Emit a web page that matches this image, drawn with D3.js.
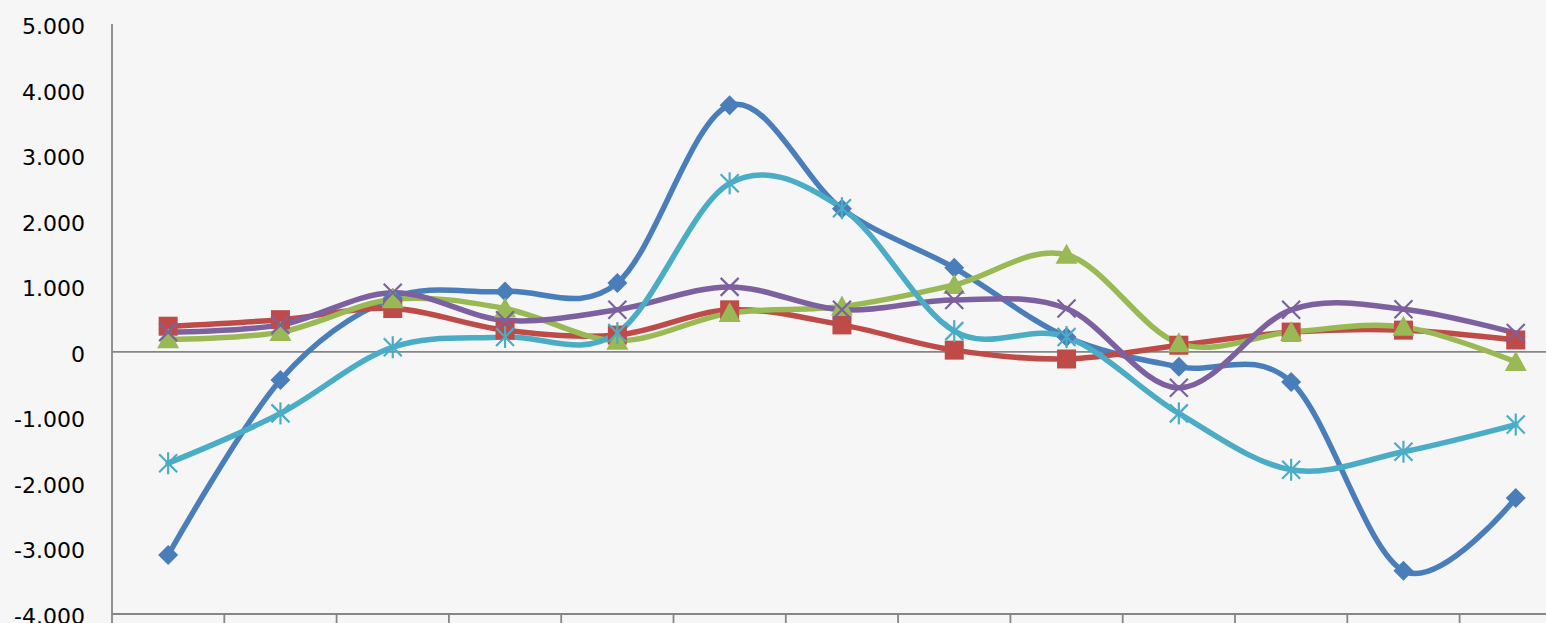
<!DOCTYPE html>
<html>
<head>
<meta charset="utf-8">
<script src="https://cdn.jsdelivr.net/npm/d3@7"></script>
<style>
  html, body { margin: 0; padding: 0; background: #f6f6f6; }
  svg { display: block; }
</style>
</head>
<body>
<div id="chart"></div>
<script>
// ---- data ----
var categories = [1, 2, 3, 4, 5, 6, 7, 8, 9, 10, 11, 12, 13];
var yTicks = [-4000, -3000, -2000, -1000, 0, 1000, 2000, 3000, 4000, 5000];

var blueVals   = [-3100, -430, 820, 920, 1050, 3760, 2180, 1280, 225, -230, -460, -3340, -2230];
var redVals    = [390, 490, 660, 330, 255, 640, 410, 25, -110, 100, 300, 330, 180];
var greenVals  = [190, 300, 800, 660, 170, 590, 690, 1020, 1480, 130, 300, 380, -155];
var purpleVals = [300, 410, 900, 480, 640, 990, 640, 790, 660, -550, 640, 650, 285];
var cyanVals   = [-1700, -940, 70, 225, 285, 2570, 2190, 315, 225, -940, -1800, -1525, -1110];

var series = [
  { name: 'blue',   values: blueVals,   color: '#4a7ebb', marker: 'diamond' },
  { name: 'red',    values: redVals,    color: '#be4b48', marker: 'square' },
  { name: 'green',  values: greenVals,  color: '#98b954', marker: 'triangle' },
  { name: 'purple', values: purpleVals, color: '#7d60a0', marker: 'x' },
  { name: 'cyan',   values: cyanVals,   color: '#4bacc6', marker: 'star' }
];

(function() {
  var W = 1546, H = 623;
  var plotLeft = 112, plotTop = 24, plotBottom = 614, band = 112.3;

  var svg = d3.select('#chart').append('svg').attr('width', W).attr('height', H);

  svg.append('rect').attr('width', W).attr('height', H).attr('fill', '#f6f6f6');

  var x = d3.scaleBand().domain(categories).range([plotLeft, plotLeft + band * categories.length]);
  var y = d3.scaleLinear().domain([-4000, 5000]).range([plotBottom, plotTop]);

  var fmt = function(v) {
    if (v === 0) return '0';
    return d3.format(',')(v).replace(/,/g, '.').replace('\u2212', '-');
  };

  // y labels
  svg.append('g').selectAll('text')
    .data(yTicks).join('text')
    .attr('x', 85)
    .attr('y', function(d) { return y(d) + 10; })
    .attr('text-anchor', 'end')
    .attr('font-family', 'DejaVu Sans, sans-serif')
    .attr('font-size', '22px')
    .attr('fill', '#000')
    .text(fmt);

  // axes
  var axisColor = '#868686';
  svg.append('line').attr('x1', plotLeft).attr('x2', plotLeft).attr('y1', plotTop).attr('y2', plotBottom)
    .attr('stroke', axisColor).attr('stroke-width', 1.8);
  svg.append('line').attr('x1', plotLeft).attr('x2', W).attr('y1', y(0)).attr('y2', y(0))
    .attr('stroke', axisColor).attr('stroke-width', 1.8);
  svg.append('line').attr('x1', plotLeft).attr('x2', W).attr('y1', plotBottom).attr('y2', plotBottom)
    .attr('stroke', axisColor).attr('stroke-width', 1.8);

  // category tick marks under the bottom axis
  var tickPos = categories.map(function(c) { return x(c); }).concat([x(categories[categories.length - 1]) + band]);
  svg.append('g').selectAll('line')
    .data(tickPos).join('line')
    .attr('x1', function(d) { return d; }).attr('x2', function(d) { return d; })
    .attr('y1', plotBottom).attr('y2', plotBottom + 10)
    .attr('stroke', axisColor).attr('stroke-width', 1.8);

  var cx = function(i) { return x(categories[i]) + x.bandwidth() / 2; };

  var line = d3.line()
    .x(function(d, i) { return cx(i); })
    .y(function(d) { return y(d); })
    .curve(d3.curveCardinal.tension(0));

  function drawMarker(g, type, color) {
    if (type === 'diamond') {
      var d = 10;
      g.append('path').attr('d', 'M0,' + -d + 'L' + d + ',0L0,' + d + 'L' + -d + ',0Z').attr('fill', color);
    } else if (type === 'square') {
      var s = 9.5;
      g.append('rect').attr('x', -s).attr('y', -s).attr('width', 2 * s).attr('height', 2 * s).attr('fill', color);
    } else if (type === 'triangle') {
      g.append('path').attr('d', 'M0,-11L11,9L-11,9Z').attr('fill', color);
    } else if (type === 'x' || type === 'star') {
      var k = 9;
      g.append('path').attr('d', 'M' + -k + ',' + -k + 'L' + k + ',' + k + 'M' + -k + ',' + k + 'L' + k + ',' + -k)
        .attr('stroke', color).attr('stroke-width', 2.2).attr('fill', 'none');
      if (type === 'star') {
        g.append('path').attr('d', 'M0,' + (-k - 2) + 'L0,' + (k + 2))
          .attr('stroke', color).attr('stroke-width', 2.2);
      }
    }
  }

  series.forEach(function(s) {
    svg.append('path')
      .attr('d', line(s.values))
      .attr('fill', 'none')
      .attr('stroke', s.color)
      .attr('stroke-width', 5.5)
      .attr('stroke-linejoin', 'round')
      .attr('stroke-linecap', 'round');
  });

  series.forEach(function(s) {
    s.values.forEach(function(v, i) {
      var g = svg.append('g').attr('transform', 'translate(' + cx(i) + ',' + y(v) + ')');
      drawMarker(g, s.marker, s.color);
    });
  });
})();
</script>
</body>
</html>
